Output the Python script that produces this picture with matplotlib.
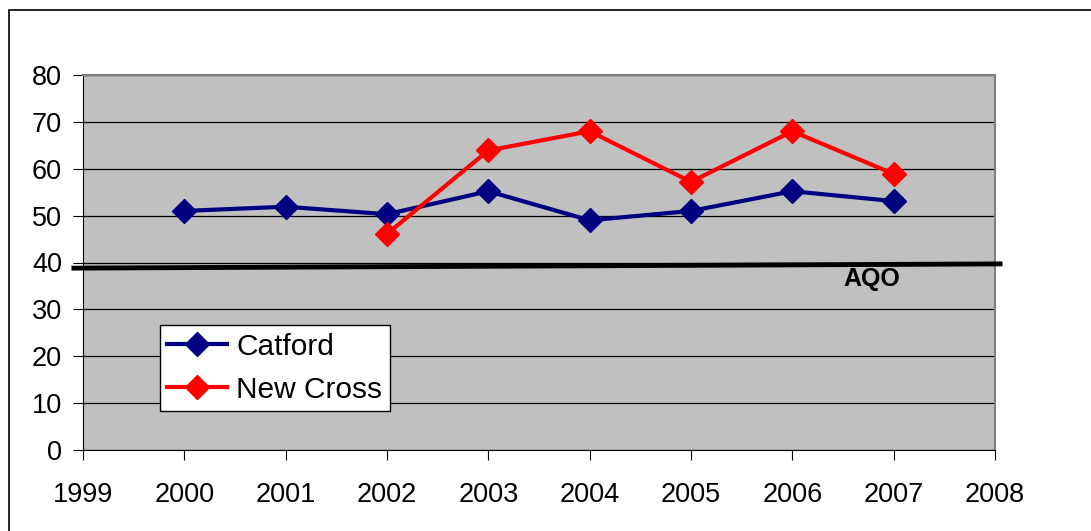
import matplotlib
matplotlib.use("Agg")
import matplotlib.pyplot as plt
from matplotlib.patches import Rectangle

plt.rcParams["font.family"] = ["Liberation Sans", "DejaVu Sans"]

years_catford = [2000, 2001, 2002, 2003, 2004, 2005, 2006, 2007]
catford = [51, 51.9, 50.3, 55.2, 49, 51, 55.2, 53.1]
years_newcross = [2002, 2003, 2004, 2005, 2006, 2007]
newcross = [46.1, 63.9, 68, 57.2, 68, 58.9]
aqo_x = [1998.91, 2008.05]
aqo_y = [38.8, 39.7]

W, H = 1091, 531
fig = plt.figure(figsize=(W / 100, H / 100), dpi=100)
ax = fig.add_axes([83 / W, (H - 450) / H, 912 / W, 375 / H])
ax.set_facecolor("#C0C0C0")

# outer chart frame
fig.patches.append(Rectangle((9 / W, -0.1), 1.2, (H - 10) / H + 0.1,
                             transform=fig.transFigure, fill=False,
                             edgecolor="black", lw=1.2, zorder=0))

ax.set_xlim(1999, 2008)
ax.set_ylim(0, 80)
ax.set_yticks(range(0, 81, 10))
ax.set_xticks(range(1999, 2009))
ax.grid(axis="y", color="black", lw=0.9)
ax.set_axisbelow(True)
for s in ["top", "right"]:
    ax.spines[s].set_color("#808080")
    ax.spines[s].set_linewidth(1.5)
for s in ["left", "bottom"]:
    ax.spines[s].set_color("black")
ax.tick_params(axis="both", labelsize=19.5, length=7, direction="out")
ax.tick_params(axis="y", pad=8)
ax.tick_params(axis="x", pad=16)

ax.plot(years_catford, catford, "-D", color="#000080", lw=3, ms=12.5,
        label="Catford", zorder=4)
ax.plot(years_newcross, newcross, "-D", color="#FF0000", lw=3, ms=12.5,
        label="New Cross", zorder=4)
ax.plot(aqo_x, aqo_y, color="black", lw=3.5, clip_on=False, zorder=3)
ax.text(2006.78, 36.5, "AQO", fontsize=18, fontweight="bold",
        ha="center", va="center")

leg = ax.legend(loc="lower left", bbox_to_anchor=(0.0844, 0.104), fontsize=21.5,
                frameon=True, fancybox=False, edgecolor="black",
                handlelength=2.0, borderpad=0.25, labelspacing=0.5,
                handletextpad=0.3, borderaxespad=0)
leg.get_frame().set_linewidth(1.0)
leg.get_frame().set_alpha(1)

fig.savefig("out.png", dpi=100)
